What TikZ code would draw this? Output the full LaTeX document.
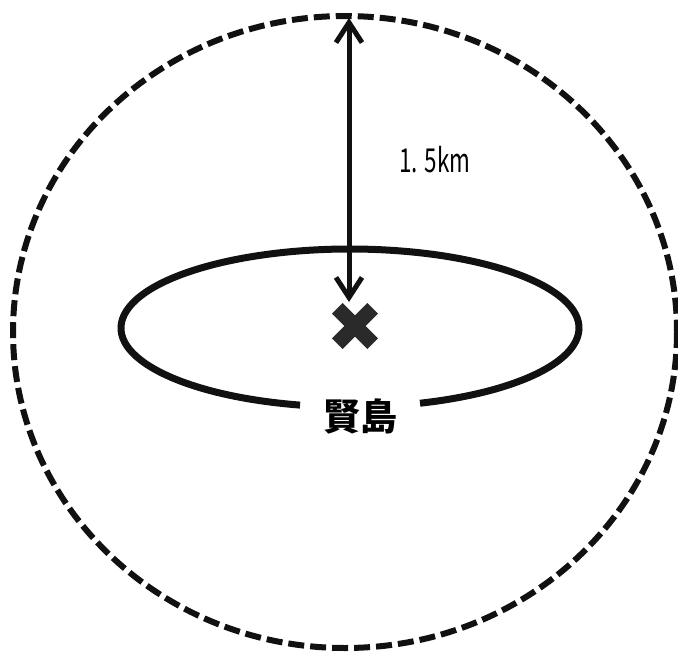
\documentclass[tikz,border=0pt]{standalone}
\usepackage{fontspec}
\newfontfamily\jpfont{Noto Sans CJK JP}
\usetikzlibrary{arrows.meta, calc, positioning}
\definecolor{mapBlack}{HTML}{111111}
\definecolor{markGrey}{HTML}{2A2A2A}
\tikzset{
  rangeline/.style  = {mapBlack, line width=6pt, dash pattern=on 16pt off 6pt},
  isleline/.style   = {mapBlack, line width=7pt},
  distarrow/.style  = {{Straight Barb[length=20pt, width=26pt, line width=5pt]}-{Straight Barb[length=20pt, width=26pt, line width=5pt]},
                       mapBlack, line width=5pt},
  crossmark/.style  = {markGrey, line width=15pt},
  lbl/.style        = {font=\jpfont\fontsize{33}{35}\selectfont, inner sep=0pt},
  islelbl/.style    = {font=\jpfont\bfseries\fontsize{37}{39}\selectfont, inner sep=0pt},
}
\begin{document}
\begin{tikzpicture}[x=1pt,y=-1pt]
  \useasboundingbox (0,0) rectangle (678,654);
  \fill[white] (0,0) rectangle (678,654);
  % warning range and island outline
  \draw[rangeline] (345,332) ellipse [x radius=332, y radius=316];
  \draw[isleline] (350,328) ++(102.6:229 and 79) arc [start angle=102.6, end angle=432.2, x radius=229, y radius=79];
  \node[islelbl] (isle) at (360,416) {賢島};
  % crater
  \node[minimum size=47pt, inner sep=0pt] (crater) at (355,326) {};
  \draw[crossmark] ($(crater.north west)+(6,6)$) -- ($(crater.south east)+(-6,-6)$);
  \draw[crossmark] ($(crater.north east)+(-6,6)$) -- ($(crater.south west)+(6,-6)$);
  \coordinate (rim) at (349,18);
  \coordinate (tip) at (349,302);
  \draw[distarrow] (rim) -- (tip);
  \node[lbl, anchor=west] (dist) at (399,160) {\scalebox{0.68}[1]{1. 5km}};
\end{tikzpicture}
\end{document}
